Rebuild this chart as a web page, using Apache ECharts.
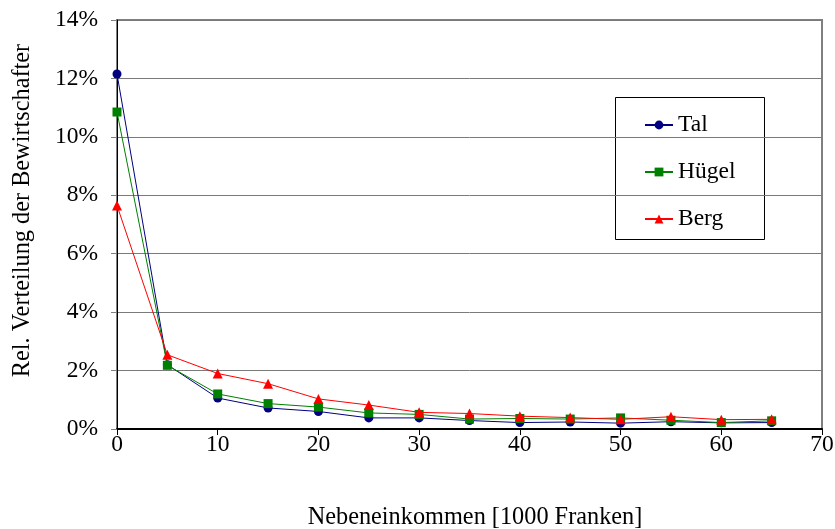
<!DOCTYPE html>
<html>
<head>
<meta charset="utf-8">
<script src="https://cdn.jsdelivr.net/npm/echarts@6/dist/echarts.min.js"></script>
<style>
  html, body { margin: 0; padding: 0; background: #fff; }
  #chart { width: 835px; height: 529px; }
</style>
</head>
<body>
<div id="chart"></div>
<script>
// Nebeneinkommen in 1000 Franken (class starts)
const income = [0, 5, 10, 15, 20, 25, 30, 35, 40, 45, 50, 55, 60, 65];
// Relative distribution of farm managers per zone, in %
const tal   = [12.15, 2.2, 1.06, 0.72, 0.6, 0.38, 0.38, 0.29, 0.22, 0.24, 0.2, 0.25, 0.21, 0.22];
const huegel = [10.85, 2.18, 1.2, 0.87, 0.75, 0.55, 0.5, 0.34, 0.36, 0.34, 0.38, 0.3, 0.22, 0.28];
const berg  = [7.65, 2.54, 1.9, 1.55, 1.03, 0.82, 0.57, 0.53, 0.44, 0.39, 0.33, 0.42, 0.32, 0.33];
const yTicks = [0, 2, 4, 6, 8, 10, 12, 14];

const FONT = '"Liberation Serif", "Times New Roman", serif';
const FS = 23.5;
const FS_NAME = 24.3;

function pairs(vals) {
  return income.map((x, i) => [x, vals[i]]);
}

const chart = echarts.init(document.getElementById('chart'), null, { renderer: 'canvas' });

chart.setOption({
  animation: false,
  backgroundColor: '#ffffff',
  textStyle: { fontFamily: FONT, color: '#000' },
  grid: {
    left: 117, right: 13, top: 20, bottom: 100,
    outerBoundsMode: 'none', containLabel: false,
    show: true, borderColor: '#808080', borderWidth: 2
  },
  xAxis: [{
    type: 'value', min: 0, max: 70, interval: 10,
    name: 'Nebeneinkommen [1000 Franken]',
    nameLocation: 'middle', nameGap: 77,
    nameTextStyle: { fontFamily: FONT, fontSize: FS_NAME, color: '#000', padding: [0, 0, 0, 11] },
    axisLine: { onZero: false, lineStyle: { color: '#000', width: 2 } },
    axisTick: { show: true, inside: false, length: 6, lineStyle: { color: '#000', width: 1 } },
    axisLabel: { fontFamily: FONT, fontSize: FS, color: '#000', margin: 4 },
    splitLine: { show: false }
  }, {
    type: 'value', min: 0, max: 70, position: 'top',
    axisLine: { lineStyle: { color: '#000', width: 1 } },
    axisTick: { show: false }, axisLabel: { show: false }, splitLine: { show: false }
  }],
  yAxis: {
    type: 'value', min: 0, max: 14, interval: 2,
    name: 'Rel. Verteilung der Bewirtschafter',
    nameLocation: 'middle', nameGap: 82, nameRotate: 90,
    nameTextStyle: { fontFamily: FONT, fontSize: FS_NAME, color: '#000', padding: [0, 0, 0, 28] },
    axisLine: { show: true, lineStyle: { color: '#000', width: 1 } },
    axisTick: { show: true, inside: false, length: 6, lineStyle: { color: '#808080', width: 1 } },
    axisLabel: {
      fontFamily: FONT, fontSize: FS, color: '#000', margin: 19,
      formatter: v => (yTicks.includes(v) ? v + '%' : '')
    },
    splitLine: { show: true, lineStyle: { color: '#7a7a7a', width: 1 } }
  },
  legend: {
    orient: 'vertical',
    left: 644, top: 113, padding: 0,
    itemWidth: 28, itemHeight: 11, itemGap: 23,
    textStyle: { fontFamily: FONT, fontSize: FS, color: '#000', lineHeight: 24, padding: [0, 0, 0, 0] },
    data: ['Tal', 'Hügel', 'Berg']
  },
  graphic: [{
    type: 'rect', z: 0, silent: true,
    shape: { x: 615.5, y: 97.5, width: 149, height: 142 },
    style: { fill: '#fff', stroke: '#000', lineWidth: 1 }
  }],
  series: [
    {
      name: 'Tal', type: 'line', data: pairs(tal), z: 4,
      symbol: 'circle', symbolSize: 9,
      lineStyle: { color: '#000080', width: 1 },
      itemStyle: { color: '#000080' }
    },
    {
      name: 'Hügel', type: 'line', data: pairs(huegel), z: 5,
      symbol: 'rect', symbolSize: 9,
      lineStyle: { color: '#008000', width: 1 },
      itemStyle: { color: '#008000' }
    },
    {
      name: 'Berg', type: 'line', data: pairs(berg), z: 6,
      symbol: 'triangle', symbolSize: 10,
      lineStyle: { color: '#ff0000', width: 1 },
      itemStyle: { color: '#ff0000' }
    }
  ]
});
</script>
</body>
</html>
